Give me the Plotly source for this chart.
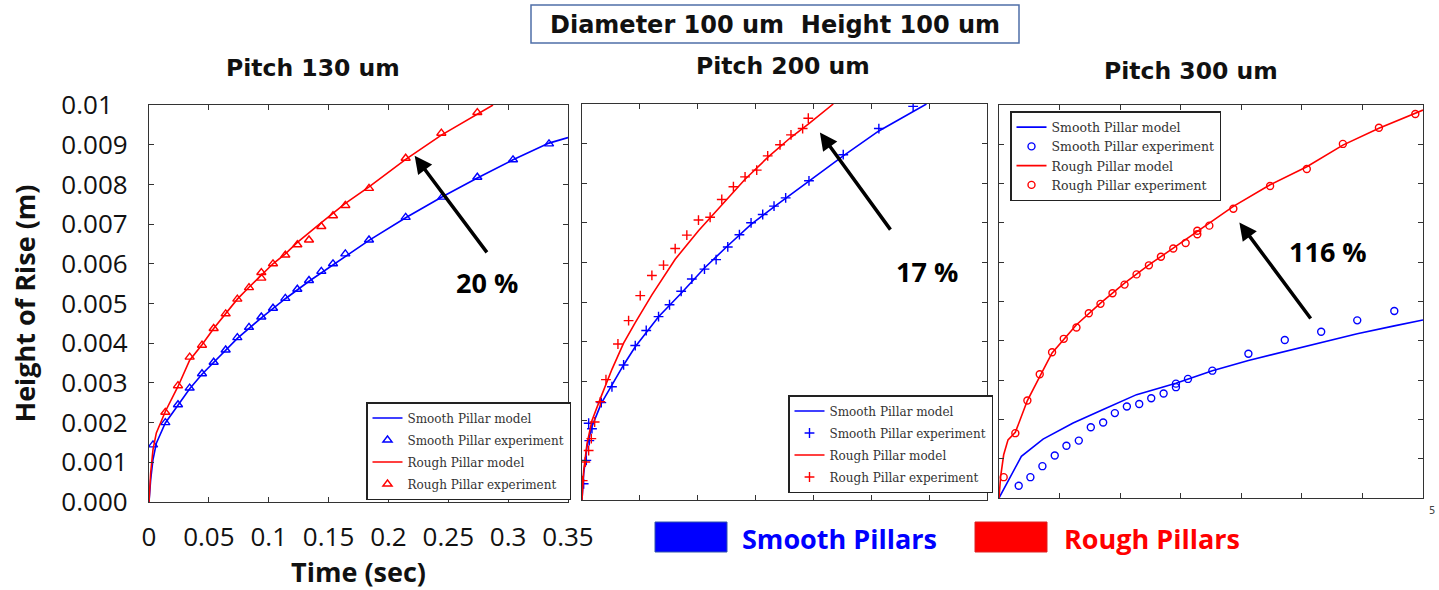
import plotly.graph_objects as go

# ---------------- Data (time in s, height of rise in m) ----------------
# Pitch 130 um
p1_smooth_model_t = [0, 0.00139, 0.00334, 0.00613, 0.01364, 0.02422, 0.03397, 0.04427, 0.05402, 0.06404,
                     0.07379, 0.09383, 0.11388, 0.13365, 0.15370, 0.18377, 0.21440, 0.24503, 0.27426,
                     0.30406, 0.33413, 0.35]
p1_smooth_model_h = [0, 0.00056, 0.00107, 0.00148, 0.00199, 0.00245, 0.00285, 0.00322, 0.00352, 0.00383,
                     0.00412, 0.00464, 0.00512, 0.00556, 0.00598, 0.00659, 0.00716, 0.00769, 0.00816,
                     0.00862, 0.00904, 0.00918]
p1_smooth_exp_t = [0.00334, 0.01364, 0.02422, 0.03397, 0.04427, 0.05402, 0.06404, 0.07379, 0.08353, 0.09383,
                   0.10358, 0.11388, 0.12391, 0.13365, 0.14395, 0.15370, 0.16400, 0.18377, 0.21440, 0.24503,
                   0.27426, 0.30406, 0.33413]
p1_smooth_exp_h = [0.00144, 0.00200, 0.00245, 0.00287, 0.00323, 0.00352, 0.00383, 0.00414, 0.00440, 0.00466,
                   0.00488, 0.00513, 0.00536, 0.00558, 0.00581, 0.00600, 0.00625, 0.00660, 0.00717, 0.00768,
                   0.00818, 0.00862, 0.00902]
p1_rough_model_t = [0, 0.00139, 0.00334, 0.00613, 0.01364, 0.02422, 0.03397, 0.04427, 0.05402, 0.06404,
                    0.07379, 0.08353, 0.09383, 0.10358, 0.11388, 0.12391, 0.14395, 0.16400, 0.18377,
                    0.21440, 0.24420, 0.27426, 0.28736]
p1_rough_model_h = [0, 0.00073, 0.00132, 0.00174, 0.00228, 0.00291, 0.00357, 0.00396, 0.00437, 0.00476,
                    0.00511, 0.00541, 0.00572, 0.00600, 0.00625, 0.00654, 0.00704, 0.00752, 0.00794,
                    0.00863, 0.00924, 0.00977, 0.01]
p1_rough_exp_t = [0.01364, 0.02422, 0.03397, 0.04427, 0.05402, 0.06404, 0.07379, 0.08353, 0.09383, 0.09383,
                  0.10358, 0.11388, 0.12391, 0.13365, 0.14395, 0.15370, 0.16400, 0.18377, 0.21440, 0.24420,
                  0.27426]
p1_rough_exp_h = [0.00226, 0.00293, 0.00365, 0.00395, 0.00437, 0.00474, 0.00511, 0.00540, 0.00564, 0.00578,
                  0.00600, 0.00622, 0.00648, 0.00660, 0.00694, 0.00721, 0.00747, 0.00790, 0.00866, 0.00929,
                  0.00981]

# Pitch 200 um
p2_smooth_model_t = [0, 0.00144, 0.00431, 0.00863, 0.01668, 0.02588, 0.03595, 0.04602, 0.06615, 0.08570,
                     0.10584, 0.12597, 0.14610, 0.16595, 0.19615, 0.22577, 0.25654, 0.29768]
p2_smooth_model_h = [0, 0.00066, 0.00135, 0.00186, 0.00244, 0.00290, 0.00341, 0.00387, 0.00463, 0.00522,
                     0.00586, 0.00642, 0.00696, 0.00740, 0.00806, 0.00869, 0.00932, 0.01]
p2_smooth_exp_t = [0.00144, 0.00374, 0.00633, 0.00575, 0.00863, 0.01668, 0.02588, 0.03595, 0.04602, 0.05551,
                   0.06615, 0.07564, 0.08570, 0.09491, 0.10584, 0.11591, 0.12597, 0.13604, 0.14610, 0.15617,
                   0.16595, 0.17601, 0.19615, 0.22577, 0.25654, 0.28617]
p2_smooth_exp_h = [0.00041, 0.00100, 0.00150, 0.00194, 0.00180, 0.00246, 0.00286, 0.00341, 0.00390, 0.00428,
                   0.00463, 0.00493, 0.00527, 0.00558, 0.00583, 0.00607, 0.00639, 0.00670, 0.00700, 0.00721,
                   0.00742, 0.00763, 0.00806, 0.00872, 0.00938, 0.00994]
p2_rough_model_t = [0, 0.00144, 0.00431, 0.00863, 0.01582, 0.02588, 0.03595, 0.04602, 0.06040, 0.08053,
                    0.10066, 0.12079, 0.14092, 0.16048, 0.18061, 0.19557, 0.21714]
p2_rough_model_h = [0, 0.00074, 0.00142, 0.00201, 0.00256, 0.00330, 0.00396, 0.00448, 0.00518, 0.00608,
                    0.00680, 0.00745, 0.00810, 0.00865, 0.00916, 0.00949, 0.01]
p2_rough_exp_t = [0.00058, 0.00288, 0.00575, 0.00805, 0.01093, 0.01582, 0.02071, 0.03106, 0.04026, 0.05033,
                  0.06040, 0.07046, 0.08053, 0.09059, 0.10066, 0.11073, 0.12079, 0.13086, 0.14092, 0.15099,
                  0.16048, 0.17112, 0.18061, 0.19068, 0.19557]
p2_rough_exp_h = [0.00049, 0.00096, 0.00125, 0.00155, 0.00197, 0.00248, 0.00304, 0.00394, 0.00453, 0.00516,
                  0.00567, 0.00593, 0.00635, 0.00669, 0.00707, 0.00714, 0.00759, 0.00791, 0.00816, 0.00833,
                  0.00869, 0.00897, 0.00922, 0.00938, 0.00964]

# Pitch 300 um
p3_smooth_model_t = [0, 0.01847, 0.03638, 0.06118, 0.08599, 0.11355, 0.14607, 0.17611, 0.20587, 0.23591,
                     0.26595, 0.29572, 0.32631, 0.35]
p3_smooth_model_h = [0, 0.00106, 0.00150, 0.00191, 0.00225, 0.00263, 0.00292, 0.00324, 0.00350, 0.00373,
                     0.00396, 0.00418, 0.00438, 0.00453]
p3_smooth_exp_t = [0.01626, 0.02591, 0.03583, 0.04602, 0.05567, 0.06587, 0.07579, 0.08598, 0.09563, 0.10555,
                   0.11575, 0.12567, 0.13587, 0.14607, 0.14607, 0.15599, 0.17611, 0.20587, 0.23591, 0.26595,
                   0.29572, 0.32631]
p3_smooth_exp_h = [0.00031, 0.00053, 0.00081, 0.00108, 0.00133, 0.00146, 0.00180, 0.00192, 0.00216, 0.00233,
                   0.00239, 0.00254, 0.00266, 0.00282, 0.00291, 0.00303, 0.00324, 0.00367, 0.00402, 0.00423,
                   0.00452, 0.00476]
p3_rough_model_t = [0, 0.00138, 0.00386, 0.00744, 0.01350, 0.02343, 0.03362, 0.04382, 0.06394, 0.08378,
                    0.10362, 0.12374, 0.14386, 0.16370, 0.19346, 0.22378, 0.25409, 0.28386, 0.31362, 0.35]
p3_rough_model_h = [0, 0.00055, 0.00110, 0.00148, 0.00167, 0.00248, 0.00309, 0.00369, 0.00441, 0.00496,
                    0.00547, 0.00593, 0.00636, 0.00678, 0.00742, 0.00797, 0.00843, 0.00898, 0.00941, 0.00987]
p3_rough_exp_t = [0.00386, 0.01350, 0.02343, 0.03362, 0.04382, 0.05346, 0.06394, 0.07413, 0.08378, 0.09370,
                  0.10362, 0.11355, 0.12374, 0.13366, 0.14386, 0.15406, 0.16370, 0.16370, 0.17362, 0.19346,
                  0.22378, 0.25409, 0.28386, 0.31362, 0.34366]
p3_rough_exp_h = [0.00053, 0.00165, 0.00248, 0.00315, 0.00371, 0.00405, 0.00434, 0.00470, 0.00494, 0.00521,
                  0.00543, 0.00569, 0.00592, 0.00614, 0.00635, 0.00649, 0.00671, 0.00680, 0.00693, 0.00736,
                  0.00794, 0.00837, 0.00901, 0.00942, 0.00977]

panel_titles = ["Pitch 130 um", "Pitch 200 um", "Pitch 300 um"]
increase_labels = ["20 %", "17 %", "116 %"]
x_tick_vals = [0, 0.05, 0.1, 0.15, 0.2, 0.25, 0.3, 0.35]
x_tick_text = ["0", "0.05", "0.1", "0.15", "0.2", "0.25", "0.3", "0.35"]
y_tick_vals = [0, 0.001, 0.002, 0.003, 0.004, 0.005, 0.006, 0.007, 0.008, 0.009, 0.01]
y_tick_text = ["0.000", "0.001", "0.002", "0.003", "0.004", "0.005", "0.006", "0.007", "0.008", "0.009",
               "0.01\u2007"]
legend_names = ["Smooth Pillar model", "Smooth Pillar experiment", "Rough Pillar model", "Rough Pillar experiment"]

BLUE = "#0000ff"
RED = "#ff0000"
W, H = 1439, 590

panels = [
    dict(sm=(p1_smooth_model_t, p1_smooth_model_h), se=(p1_smooth_exp_t, p1_smooth_exp_h),
         rm=(p1_rough_model_t, p1_rough_model_h), re=(p1_rough_exp_t, p1_rough_exp_h),
         sym="triangle-up-open", msize=8),
    dict(sm=(p2_smooth_model_t, p2_smooth_model_h), se=(p2_smooth_exp_t, p2_smooth_exp_h),
         rm=(p2_rough_model_t, p2_rough_model_h), re=(p2_rough_exp_t, p2_rough_exp_h),
         sym="cross-thin-open", msize=7),
    dict(sm=(p3_smooth_model_t, p3_smooth_model_h), se=(p3_smooth_exp_t, p3_smooth_exp_h),
         rm=(p3_rough_model_t, p3_rough_model_h), re=(p3_rough_exp_t, p3_rough_exp_h),
         sym="circle-open", msize=7),
]

# pixel boxes of each plotting area (left, right, top, bottom)
boxes = [(149, 568, 105, 502), (582, 987, 104, 500), (999, 1423, 105, 498)]

fig = go.Figure()
for i, p in enumerate(panels):
    n = "" if i == 0 else str(i + 1)
    xa, ya = "x" + n, "y" + n
    lg = "legend" + n
    entries = [("sm", BLUE, "lines"), ("se", BLUE, "markers"), ("rm", RED, "lines"), ("re", RED, "markers")]
    for k, (key, col, mode) in enumerate(entries):
        tx, hy = p[key]
        tr = dict(x=tx, y=hy, mode=mode, name=legend_names[k], xaxis=xa, yaxis=ya,
                  legend=lg, legendgroup=f"g{i}{k}", showlegend=True)
        if mode == "lines":
            tr["line"] = dict(color=col, width=1.6)
        else:
            tr["marker"] = dict(symbol=p["sym"], size=p["msize"], color=col,
                                line=dict(color=col, width=1.4))
        fig.add_trace(go.Scatter(**tr))

axis_common = dict(showgrid=False, zeroline=False, showline=True, linecolor="#333333", linewidth=1.3,
                   mirror="allticks", ticks="inside", ticklen=5, tickcolor="#333333", tickwidth=1,
                   automargin=False)
layout = {}
for i, (l, r, t, b) in enumerate(boxes):
    n = "" if i == 0 else str(i + 1)
    xdom = [l / W, r / W]
    ydom = [1 - b / H, 1 - t / H]
    xa = dict(axis_common, domain=xdom, range=[0, 0.35], anchor="y" + n, tickvals=x_tick_vals)
    ya = dict(axis_common, domain=ydom, range=[0, 0.01], anchor="x" + n, tickvals=y_tick_vals)
    if i == 0:
        xa.update(ticktext=x_tick_text, showticklabels=True, ticklabelstandoff=12,
                  tickfont=dict(family="Open Sans", size=26, color="#111111"),
                  title=dict(text="<b>Time (sec)</b>", standoff=3,
                             font=dict(family="Open Sans", size=27, color="#111111")))
        ya.update(ticktext=y_tick_text, showticklabels=True, ticklabelstandoff=15,
                  tickfont=dict(family="Open Sans", size=26, color="#111111"),
                  title=dict(text="<b>Height of Rise (m)</b>", standoff=17,
                             font=dict(family="Open Sans", size=27, color="#111111")))
    else:
        xa.update(showticklabels=False)
        ya.update(showticklabels=False)
    layout["xaxis" + n] = xa
    layout["yaxis" + n] = ya

legend_common = dict(bgcolor="white", bordercolor="#222222", borderwidth=1.5, xanchor="left",
                     yanchor="top", font=dict(family="DejaVu Serif", size=12, color="#333333"),
                     traceorder="grouped", itemwidth=30)
layout["legend"] = dict(legend_common, x=366 / W, y=1 - 402 / H, tracegroupgap=3)
layout["legend2"] = dict(legend_common, x=788 / W, y=1 - 395 / H, tracegroupgap=3)
layout["legend3"] = dict(legend_common, x=1010 / W, y=1 - 111 / H, tracegroupgap=0,
                         font=dict(family="DejaVu Serif", size=12.5, color="#333333"))

fig.update_layout(width=W, height=H, margin=dict(l=0, r=0, t=0, b=0, autoexpand=False), autosize=False,
                  paper_bgcolor="white", plot_bgcolor="white", **layout)

annotations = []
# Arrows (head at x,y ; tail at ax,ay) in data coordinates
arrows = [((0.2219, 0.00872), (0.2832, 0.00625)),
          ((0.2056, 0.00928), (0.2675, 0.00679)),
          ((0.1984, 0.00701), (0.2582, 0.00453))]
label_pos = [(0.2823, 0.00552), (0.2981, 0.00576), (0.2716, 0.00626)]
for i in range(3):
    n = "" if i == 0 else str(i + 1)
    (hx, hy), (tx, ty) = arrows[i]
    annotations.append(dict(x=hx, y=hy, ax=tx, ay=ty, xref="x" + n, yref="y" + n,
                            axref="x" + n, ayref="y" + n, showarrow=True, arrowhead=2,
                            arrowsize=1, arrowwidth=3.5, arrowcolor="black", text=""))
    lx, ly = label_pos[i]
    annotations.append(dict(x=lx, y=ly, xref="x" + n, yref="y" + n, showarrow=False,
                            xanchor="center", yanchor="middle",
                            text="<b>" + increase_labels[i] + "</b>",
                            font=dict(family="Open Sans", size=27, color="black")))

# Panel titles
title_px = [(313, 68), (783, 66), (1191, 71)]
for (cx, cy), txt in zip(title_px, panel_titles):
    annotations.append(dict(x=cx / W, y=1 - cy / H, xref="paper", yref="paper", showarrow=False,
                            xanchor="center", yanchor="middle",
                            text="<b>" + txt + "</b>",
                            font=dict(family="DejaVu Sans", size=23.5, color="#111111")))

# Main title box
annotations.append(dict(x=775 / W, y=1 - 25 / H, xref="paper", yref="paper", showarrow=False,
                        xanchor="center", yanchor="middle",
                        text="<b>Diameter 100 um\u00a0 Height 100 um</b>",
                        font=dict(family="DejaVu Sans", size=24, color="#111111")))
# Stray exponent fragment
annotations.append(dict(x=1432 / W, y=1 - 510 / H, xref="paper", yref="paper", showarrow=False,
                        xanchor="center", yanchor="middle",
                        text="5", font=dict(family="DejaVu Sans", size=10, color="#444444")))

# Bottom key
key_items = [("Smooth Pillars", BLUE, 655, 740), ("Rough Pillars", RED, 975, 1062)]
shapes = [dict(type="rect", xref="paper", yref="paper", x0=531 / W, x1=1019 / W,
               y0=1 - 43 / H, y1=1 - 5 / H, line=dict(color="#4f6fa8", width=1.5),
               fillcolor="rgba(0,0,0,0)")]
for label, col, sx, tx in key_items:
    shapes.append(dict(type="rect", xref="paper", yref="paper", x0=sx / W, x1=(sx + 72) / W,
                       y0=1 - 552 / H, y1=1 - 522 / H, fillcolor=col,
                       line=dict(color="#3355aa" if col == BLUE else "#dd2222", width=1)))
    annotations.append(dict(x=tx / W, y=1 - 538 / H, xref="paper", yref="paper", xanchor="left",
                            yanchor="middle", showarrow=False, text="<b>" + label + "</b>",
                            font=dict(family="Open Sans", size=27, color=col)))

fig.update_layout(annotations=annotations, shapes=shapes)
fig.write_html("out.html", config={"displayModeBar": False},
               post_script="document.body.style.margin='0';document.body.style.overflow='hidden';")
